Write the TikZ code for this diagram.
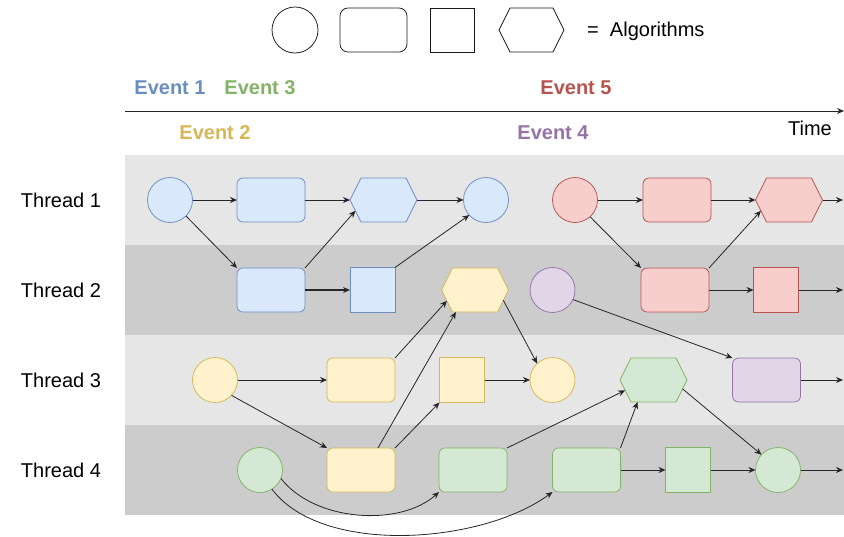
\documentclass[tikz,border=0pt]{standalone}
\usepackage{fontspec}
\setmainfont{Liberation Sans}
\usetikzlibrary{shapes.symbols,arrows.meta}

\definecolor{bandlight}{HTML}{E6E6E6}
\definecolor{banddark}{HTML}{CCCCCC}
\definecolor{bluefill}{HTML}{DAE8FC}\definecolor{bluedraw}{HTML}{6C8EBF}
\definecolor{yelfill}{HTML}{FFF2CC}\definecolor{yeldraw}{HTML}{D6B656}
\definecolor{grnfill}{HTML}{D5E8D4}\definecolor{grndraw}{HTML}{82B366}
\definecolor{redfill}{HTML}{F8CECC}\definecolor{reddraw}{HTML}{B85450}
\definecolor{purfill}{HTML}{E1D5E7}\definecolor{purdraw}{HTML}{9673A6}
\definecolor{evblue}{HTML}{6C8EBF}
\definecolor{evyel}{HTML}{D6B656}
\definecolor{evgrn}{HTML}{82B366}
\definecolor{evred}{HTML}{B85450}
\definecolor{evpur}{HTML}{9673A6}

\tikzset{
  alg/.style={line width=0.75pt, inner sep=0pt, outer sep=0pt},
  circ/.style={alg, circle, minimum size=45pt},
  rbox/.style={alg, rectangle, rounded corners=6pt, minimum width=68pt, minimum height=44pt},
  sbox/.style={alg, rectangle, minimum width=45pt, minimum height=45pt},
  hexa/.style={alg, signal, signal to=east and west, signal pointer angle=126.87,
               minimum width=67pt, minimum height=44pt},
  evA/.style={fill=bluefill, draw=bluedraw},
  evB/.style={fill=yelfill, draw=yeldraw},
  evC/.style={fill=grnfill, draw=grndraw},
  evD/.style={fill=purfill, draw=purdraw},
  evE/.style={fill=redfill, draw=reddraw},
  legend/.style={fill=white, draw=black!90},
  flow/.style={draw=black!85, line width=0.8pt, -{Stealth[length=7pt,width=6pt]}},
  evtext/.style={font=\fontsize{20}{24}\selectfont\bfseries, inner sep=0pt},
  plain/.style={font=\fontsize{20}{24}\selectfont, inner sep=0pt},
}

\begin{document}
\begin{tikzpicture}[x=1pt, y=-1pt]
\useasboundingbox (0,0) rectangle (844,536);

% thread lanes
\fill[bandlight] (125,155) rectangle (844,245);
\fill[banddark]  (125,245) rectangle (844,335);
\fill[bandlight] (125,335) rectangle (844,425);
\fill[banddark]  (125,425) rectangle (844,515);

% legend
\node[circ, legend, minimum size=46pt] (lc) at (295,30) {};
\node[rbox, legend, minimum width=67pt, rounded corners=8pt] (lr) at (373.5,30) {};
\node[sbox, legend, minimum width=44pt, minimum height=44pt] (ls) at (452,30) {};
\node[hexa, legend, minimum width=65pt] (lh) at (531.5,30) {};
\node[plain, anchor=west] (lt) at (587,31) {=\ \ Algorithms};

% time line and events
\coordinate (t0) at (125,111);
\coordinate (t1) at (844,111);
\draw[flow] (t0) -- (t1);
\node[plain] (time) at (810,128) {Time};
\node[evtext, text=evblue] (e1) at (170,88) {Event 1};
\node[evtext, text=evgrn]  (e3) at (260,88) {Event 3};
\node[evtext, text=evred]  (e5) at (576,88) {Event 5};
\node[evtext, text=evyel]  (e2) at (215,133) {Event 2};
\node[evtext, text=evpur]  (e4) at (553,133) {Event 4};

% thread names
\node[plain] (th1) at (61,200) {Thread 1};
\node[plain] (th2) at (61,290) {Thread 2};
\node[plain] (th3) at (61,380) {Thread 3};
\node[plain] (th4) at (61,470) {Thread 4};

% event 1 (blue)
\node[circ, evA] (b1) at (170,200) {};
\node[rbox, evA] (b2) at (271,200) {};
\node[hexa, evA] (b3) at (383.5,200) {};
\node[circ, evA] (b4) at (486,200) {};
\node[rbox, evA] (b5) at (271,290) {};
\node[sbox, evA] (b6) at (372.5,290) {};

% event 5 (red)
\node[circ, evE] (r1) at (575,200) {};
\node[rbox, evE] (r2) at (677,200) {};
\node[hexa, evE] (r3) at (789,200) {};
\node[rbox, evE] (r5) at (675,290) {};
\node[sbox, evE] (r6) at (776,290) {};

% event 2 (yellow)
\node[hexa, evB] (yh) at (475,290) {};
\node[circ, evB] (y1) at (215,380) {};
\node[rbox, evB] (y2) at (361,380) {};
\node[sbox, evB] (y4) at (462,380) {};
\node[circ, evB] (y5) at (552.5,380) {};
\node[rbox, evB] (y3) at (361,470) {};

% event 4 (purple)
\node[circ, evD] (p1) at (552.5,290) {};
\node[rbox, evD] (p2) at (766.5,380) {};

% event 3 (green)
\node[hexa, evC] (gh) at (653.5,380) {};
\node[circ, evC] (g1) at (260,470) {};
\node[rbox, evC] (g3) at (473,470) {};
\node[rbox, evC] (g4) at (586.5,470) {};
\node[sbox, evC] (g5) at (688,470) {};
\node[circ, evC] (g6) at (778,470) {};

% lane exits
\coordinate (o1) at (843,200);
\coordinate (o2) at (843,290);
\coordinate (o3) at (843,380);
\coordinate (o4) at (843,470);

% blue flow
\draw[flow] (b1) -- (b2);
\draw[flow] (b2) -- (b3);
\draw[flow] (b3) -- (b4);
\draw[flow] (b1.south east) -- (b5.north west);
\draw[flow] (b5.north east) -- (b3.201);
\draw[flow, line width=1.2pt] (b5) -- (b6);
\draw[flow] (b6.north east) -- (b4.-138);

% red flow
\draw[flow] (r1) -- (r2);
\draw[flow] (r2) -- (r3);
\draw[flow] (r3) -- (o1);
\draw[flow] (r1.-48) -- (r5.north west);
\draw[flow] (r5.north east) -- (r3.201);
\draw[flow] (r5) -- (r6);
\draw[flow] (r6) -- (o2);

% yellow flow
\draw[flow] (y1) -- (y2);
\draw[flow] (y1.-43) -- (y3.north west);
\draw[flow] (y2.north east) -- (yh.201);
\draw[flow] ([xshift=17pt]y3.north) -- (yh.-131);
\draw[flow] (y3.north east) -- (y4.south west);
\draw[flow] (y4) -- (y5);
\draw[flow] (yh.-20) -- (y5.133);

% purple flow
\draw[flow] (p1.-25) -- (p2.north west);
\draw[flow] (p2) -- (o3);

% green flow
\draw[flow] (g1.-22) .. controls (315,522) and (400,527) .. (g3.south west);
\draw[flow] (g1.-58) .. controls (322,556) and (482,544) .. (g4.south west);
\draw[flow] (g3.north east) -- (gh.200);
\draw[flow] (g4.north east) -- (gh.234);
\draw[flow] (g4) -- (g5);
\draw[flow] (g5) -- (g6);
\draw[flow] (gh.-17) -- (g6.137);
\draw[flow] (g6) -- (o4);
\end{tikzpicture}
\end{document}
